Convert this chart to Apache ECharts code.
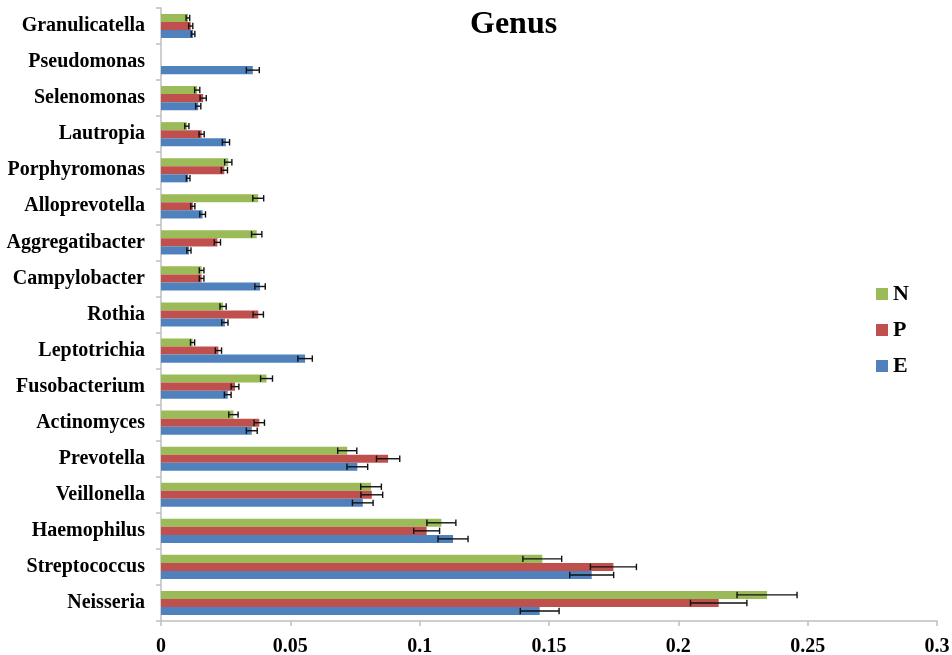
<!DOCTYPE html>
<html>
<head>
<meta charset="utf-8">
<script src="https://cdn.jsdelivr.net/npm/echarts@6/dist/echarts.min.js"></script>
<style>
  html, body { margin: 0; padding: 0; background: #fff; }
  #chart { width: 952px; height: 655px; }
</style>
</head>
<body>
<div id="chart"></div>
<script>
// Genera, listed bottom to top
const genera = ['Neisseria', 'Streptococcus', 'Haemophilus', 'Veillonella', 'Prevotella',
  'Actinomyces', 'Fusobacterium', 'Leptotrichia', 'Rothia', 'Campylobacter',
  'Aggregatibacter', 'Alloprevotella', 'Porphyromonas', 'Lautropia', 'Selenomonas',
  'Pseudomonas', 'Granulicatella'];

const valuesN = [0.2343, 0.1474, 0.1084, 0.0812, 0.0720, 0.0280, 0.0408, 0.0122, 0.0240, 0.0157,
  0.0370, 0.0376, 0.0260, 0.0100, 0.0140, 0, 0.0104];
const errorsN = [0.0116, 0.0075, 0.0056, 0.0040, 0.0037, 0.0018, 0.0023, 0.0008, 0.0012, 0.0009,
  0.0020, 0.0021, 0.0014, 0.0008, 0.0010, 0, 0.0007];

const valuesP = [0.2156, 0.1749, 0.1027, 0.0815, 0.0878, 0.0380, 0.0286, 0.0222, 0.0376, 0.0157,
  0.0218, 0.0123, 0.0245, 0.0157, 0.0163, 0, 0.0115];
const errorsP = [0.0109, 0.0089, 0.0050, 0.0042, 0.0045, 0.0020, 0.0015, 0.0012, 0.0020, 0.0009,
  0.0012, 0.0008, 0.0012, 0.0010, 0.0012, 0, 0.0008];

const valuesE = [0.1464, 0.1665, 0.1129, 0.0780, 0.0759, 0.0351, 0.0258, 0.0557, 0.0247, 0.0383,
  0.0108, 0.0161, 0.0105, 0.0251, 0.0144, 0.0355, 0.0124];
const errorsE = [0.0075, 0.0085, 0.0058, 0.0040, 0.0040, 0.0021, 0.0013, 0.0028, 0.0012, 0.0020,
  0.0008, 0.0011, 0.0007, 0.0014, 0.0010, 0.0025, 0.0007];

const groups = ['N', 'P', 'E'];
const colors = { N: '#9bbb59', P: '#c0504d', E: '#4f81bd' };
const values = { N: valuesN, P: valuesP, E: valuesE };
const errors = { N: errorsN, P: errorsP, E: errorsE };

const xTicks = [0, 0.05, 0.1, 0.15, 0.2, 0.25, 0.3];

const serif = '"Liberation Serif", "DejaVu Serif", serif';
const GAP = 0.33; // category gap fraction

// Draws a horizontal error bar with end caps for one bar slot in the group
function errorBarRenderer(slot) {
  return function (params, api) {
    const v = api.value(1);
    const e = api.value(2);
    if (!v || !e) return null;
    const idx = api.value(0);
    const center = api.coord([v, idx]);
    const band = api.size([0, 1])[1];
    const barW = band * (1 - GAP) / 3;
    const y = center[1] - 1.5 * barW + barW * (slot + 0.5);
    const lo = api.coord([v - e, idx])[0];
    const hi = api.coord([v + e, idx])[0];
    const capH = barW * 0.8;
    const style = { stroke: '#111', lineWidth: 1.4 };
    return {
      type: 'group',
      children: [
        { type: 'line', shape: { x1: lo, y1: y, x2: hi, y2: y }, style },
        { type: 'line', shape: { x1: lo, y1: y - capH / 2, x2: lo, y2: y + capH / 2 }, style },
        { type: 'line', shape: { x1: hi, y1: y - capH / 2, x2: hi, y2: y + capH / 2 }, style }
      ]
    };
  };
}

const barSeries = groups.map(g => ({
  name: g,
  type: 'bar',
  data: values[g],
  barGap: '0%',
  barCategoryGap: (GAP * 100) + '%',
  itemStyle: { color: colors[g] },
  animation: false
}));

const errSeries = groups.map((g, slot) => ({
  name: g + '_err',
  type: 'custom',
  renderItem: errorBarRenderer(slot),
  data: genera.map((_, i) => [i, values[g][i], errors[g][i]]),
  encode: { x: 1, y: 0 },
  z: 5,
  silent: true,
  animation: false
}));

const chart = echarts.init(document.getElementById('chart'), null, { renderer: 'canvas' });
chart.setOption({
  backgroundColor: '#fff',
  animation: false,
  title: {
    text: 'Genus',
    left: 465,
    top: 4,
    textStyle: { fontFamily: serif, fontWeight: 'bold', fontSize: 32, color: '#000' }
  },
  legend: {
    data: groups,
    orient: 'vertical',
    left: 871,
    top: 278,
    itemWidth: 12,
    itemHeight: 12,
    itemGap: 14,
    icon: 'rect',
    textStyle: { fontFamily: serif, fontWeight: 'bold', fontSize: 22, lineHeight: 22, color: '#000', padding: [0, 0, 0, 0] }
  },
  grid: { left: 161, right: 15, top: 8, bottom: 34, containLabel: false, outerBoundsMode: 'none' },
  xAxis: {
    type: 'value',
    min: xTicks[0],
    max: xTicks[xTicks.length - 1],
    interval: 0.05,
    axisLine: { show: true, lineStyle: { color: '#bfbfbf', width: 1.5 } },
    axisTick: { show: true, length: 5, lineStyle: { color: '#bfbfbf', width: 1.5 } },
    splitLine: { show: false },
    axisLabel: {
      margin: 16,
      fontFamily: serif, fontWeight: 'bold', fontSize: 20, color: '#000',
      formatter: v => String(Math.round(v * 100) / 100)
    }
  },
  yAxis: {
    type: 'category',
    data: genera,
    axisLine: { show: true, lineStyle: { color: '#bfbfbf', width: 1.5 } },
    axisTick: { show: true, length: 5, lineStyle: { color: '#bfbfbf', width: 1.5 } },
    axisLabel: {
      margin: 16,
      fontFamily: serif, fontWeight: 'bold', fontSize: 20, color: '#000'
    }
  },
  series: barSeries.concat(errSeries)
});
</script>
</body>
</html>
